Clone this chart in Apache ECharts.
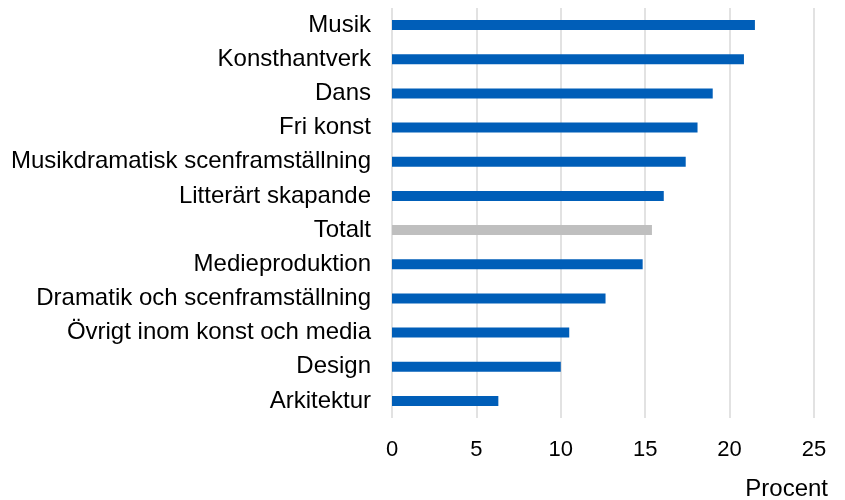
<!DOCTYPE html>
<html>
<head>
<meta charset="utf-8">
<script src="https://cdn.jsdelivr.net/npm/echarts@6/dist/echarts.min.js"></script>
<style>
  html, body { margin: 0; padding: 0; background: #fff; }
  #chart { width: 845px; height: 500px; }
</style>
</head>
<body>
<div id="chart"></div>
<script>
  // top to bottom
  const categories = ['Musik', 'Konsthantverk', 'Dans', 'Fri konst', 'Musikdramatisk scenframställning',
    'Litterärt skapande', 'Totalt', 'Medieproduktion', 'Dramatik och scenframställning',
    'Övrigt inom konst och media', 'Design', 'Arkitektur']
  const values = [21.5, 20.85, 19.0, 18.1, 17.4, 16.1, 15.4, 14.85, 12.65, 10.5, 10.0, 6.3]
  const totalLabel = 'Totalt'
  const xTicks = [0, 5, 10, 15, 20, 25]

  const font = 'Liberation Sans, Arial, sans-serif'
  const chart = echarts.init(document.getElementById('chart'))
  chart.setOption({
    animation: false,
    title: {
      text: 'Procent',
      right: 12,
      top: 472,
      textStyle: { fontFamily: font, fontSize: 24, fontWeight: 'normal', color: '#000' }
    },
    grid: { left: 392, right: 31, top: 8, bottom: 82 },
    xAxis: {
      type: 'value',
      min: xTicks[0],
      max: xTicks[xTicks.length - 1],
      interval: 5,
      axisLine: { show: false },
      axisTick: { show: false },
      axisLabel: { fontFamily: font, fontSize: 22, color: '#000', margin: 21 },
      splitLine: { show: true, lineStyle: { color: '#d9d9d9', width: 1.5 } }
    },
    yAxis: {
      type: 'category',
      inverse: true,
      data: categories,
      axisLine: { show: false },
      axisTick: { show: false },
      axisLabel: { fontFamily: font, fontSize: 24, color: '#000', margin: 21 }
    },
    series: [{
      type: 'bar',
      barWidth: 10,
      data: values.map((v, i) => ({
        value: v,
        itemStyle: { color: categories[i] === totalLabel ? '#bfbfbf' : '#005eb8' }
      }))
    }]
  })
</script>
</body>
</html>
